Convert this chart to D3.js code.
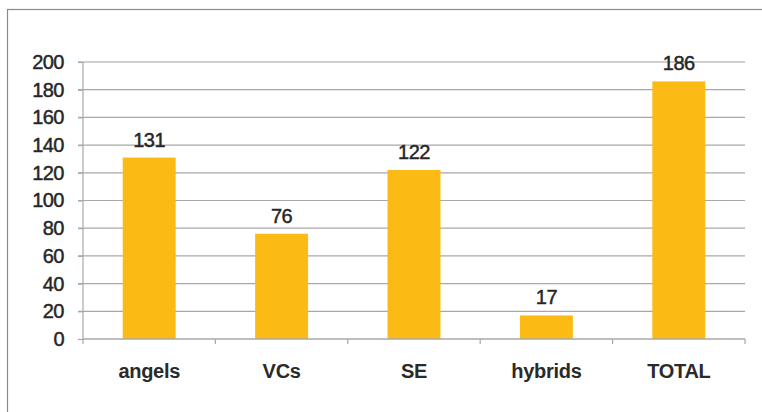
<!DOCTYPE html>
<html><head><meta charset="utf-8">
<script src="https://cdn.jsdelivr.net/npm/d3@7"></script>
<style>
html,body{margin:0;padding:0;background:#fff;}
svg{display:block;}
</style></head>
<body><svg id="c" width="762" height="412"></svg>
<script>
const categories = ["angels", "VCs", "SE", "hybrids", "TOTAL"];
const values = [131, 76, 122, 17, 186];
const yTicks = [0, 20, 40, 60, 80, 100, 120, 140, 160, 180, 200];

const svg = d3.select("#c");
const mLeft = 83, mRight = 745, mTop = 62, mBottom = 339;
const font = "'Liberation Sans', Arial, sans-serif";

// outer frame
svg.append("rect").attr("x", 7.5).attr("y", 9.5).attr("width", 780).attr("height", 420)
  .attr("fill", "#fff").attr("stroke", "#8a8a8a").attr("stroke-width", 1.2);

const x = d3.scaleBand().domain(categories).range([mLeft, mRight]).paddingInner(0.6).paddingOuter(0.3);
const y = d3.scaleLinear().domain([0, 200]).range([mBottom, mTop]);

// gridlines
svg.append("g").selectAll("line").data(yTicks.filter(d => d > 0)).join("line")
  .attr("x1", mLeft - 5).attr("x2", mRight)
  .attr("y1", d => y(d)).attr("y2", d => y(d))
  .attr("stroke", d => d === 200 ? "#cfcfcf" : "#a8a8a8")
  .attr("stroke-width", d => d === 200 ? 2 : 1.2);

// y axis
const yAxis = d3.axisLeft(y).tickValues(yTicks).tickSize(5).tickPadding(14);
const gy = svg.append("g").attr("transform", `translate(${mLeft},0)`).call(yAxis);
gy.select(".domain").attr("stroke", "#a8a8a8").attr("stroke-width", 1.2).attr("d", `M0,${mTop}V${mBottom}`);
gy.selectAll(".tick line").attr("stroke", "#a8a8a8").attr("stroke-width", 1.2);
gy.selectAll(".tick text").attr("font-family", font).attr("font-size", 20)
  .attr("fill", "#262626").attr("stroke", "#262626").attr("stroke-width", 0.45)
  .style("letter-spacing", "-0.5px");

// bars
svg.append("g").selectAll("rect").data(values).join("rect")
  .attr("x", (d, i) => x(categories[i]))
  .attr("y", d => y(d))
  .attr("width", x.bandwidth())
  .attr("height", d => y(0) - y(d))
  .attr("fill", "#fbbb14");

// x axis
const step = x.step();
const xAxis = d3.axisBottom(x).tickSize(0).tickPadding(0);
const gx = svg.append("g").attr("transform", `translate(0,${mBottom})`).call(xAxis);
gx.select(".domain").attr("stroke", "#a8a8a8").attr("stroke-width", 1.5).attr("d", `M${mLeft},0H${mRight}`);
gx.selectAll(".tick text").attr("font-family", font).attr("font-size", 20).attr("font-weight", "bold")
  .attr("fill", "#2a2a2a").attr("dy", 0).attr("y", 39).style("letter-spacing", "-0.3px");
// boundary ticks
const bounds = d3.range(categories.length + 1).map(i => mLeft + i * step);
gx.append("g").selectAll("line").data(bounds).join("line")
  .attr("x1", d => d).attr("x2", d => d).attr("y1", 0).attr("y2", 5)
  .attr("stroke", "#a8a8a8").attr("stroke-width", 1.2);

// value labels
svg.append("g").selectAll("text").data(values).join("text")
  .attr("x", (d, i) => x(categories[i]) + x.bandwidth() / 2)
  .attr("y", d => y(d) - 11)
  .attr("text-anchor", "middle")
  .attr("font-family", font).attr("font-size", 20)
  .attr("fill", "#262626").attr("stroke", "#262626").attr("stroke-width", 0.45)
  .style("letter-spacing", "-0.5px")
  .text(d => d);
</script></body></html>
